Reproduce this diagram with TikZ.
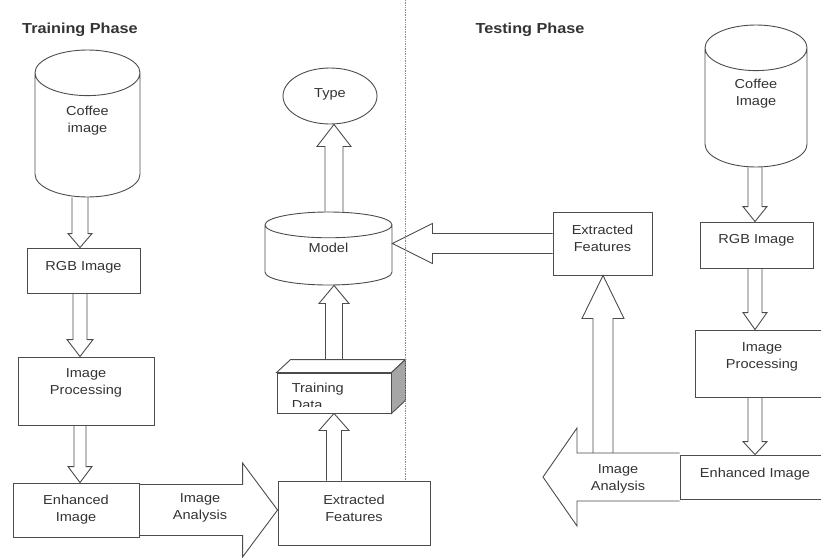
\documentclass[tikz,border=0pt]{standalone}
\usepackage{fontspec}
\setmainfont[FakeStretch=1.12]{Liberation Sans}
\usetikzlibrary{shapes.geometric,calc,backgrounds}

% hollow block arrows: from, to, shaft half width, head half width, head length
\newcommand{\blockarrowv}[5]{%
  \coordinate (bs) at (#1);
  \coordinate (bt) at (bs |- #2);
  \draw[blockarrow] ($(bs)+(-#3,0)$) -- ($(bt)-(#3,#5)$) -- ($(bt)-(#4,#5)$) -- (bt)
    -- ($(bt)-(-#4,#5)$) -- ($(bt)-(-#3,#5)$) -- ($(bs)+(#3,0)$);}
\newcommand{\blockarrowh}[5]{%
  \coordinate (bs) at (#1);
  \coordinate (bt) at (#2 |- bs);
  \draw[blockarrow] ($(bs)+(0,-#3)$) -- ($(bt)-(#5,#3)$) -- ($(bt)-(#5,#4)$) -- (bt)
    -- ($(bt)-(#5,-#4)$) -- ($(bt)-(#5,-#3)$) -- ($(bs)+(0,#3)$);}

\begin{document}
\begin{tikzpicture}[x=1pt, y=-1pt,
    every node/.style={font=\fontsize{13}{17}\selectfont, text=black!80, align=center},
    line/.style={draw=black!70, line width=0.9pt},
    stepbox/.style={line, rectangle, inner sep=0pt},
    dbase/.style={line, cylinder, shape border rotate=90, inner sep=0pt, anchor=shape center},
    blockarrow/.style={line, fill=white, line join=miter},
    heading/.style={font=\fontsize{14.5}{17}\selectfont\bfseries},
    divider/.style={draw=black!45, densely dotted, line width=0.7pt}]
    \useasboundingbox (0,0) rectangle (821,557);
    \clip (0,0) rectangle (821,557);

    % Training phase
    \node[heading] (trainhead) at (80,30) {Training Phase};
    \node[dbase, aspect=1.07, minimum width=105, minimum height=147, text depth=31] (imgA) at (87.5,123.5) {Coffee\\image};
    \node[stepbox, minimum width=113, minimum height=45, text depth=9] (rgbA) at (83.5,270.5) {RGB Image};
    \node[stepbox, minimum width=136, minimum height=68, text depth=19] (procA) at (86,391) {Image\\Processing};
    \node[stepbox, minimum width=126, minimum height=54] (enhA) at (76,510) {Enhanced\\Image};
    \node[stepbox, minimum width=152, minimum height=64, text depth=10] (featA) at (354,513) {Extracted\\Features};

    % Training data, model and type
    \node[stepbox, fill=white, minimum width=114, minimum height=40] (train) at (334,393) {};
    \draw[line, fill=white] (train.north west) -- ++(14,-13) -- ($(train.north east)+(14,-13)$) -- (train.north east) -- cycle;
    \draw[line, fill=black!35] (train.north east) -- ++(14,-13) -- ($(train.south east)+(14,-13)$) -- (train.south east) -- cycle;
    \begin{scope}
        \clip (train.north west) rectangle ($(train.south east)+(0,-7)$);
        \node[anchor=north west, align=left, inner sep=0pt] (traintxt) at ($(train.north west)+(15,10)$) {Training\\Data};
    \end{scope}
    \node[dbase, aspect=0.65, minimum width=127, minimum height=73, text depth=14] (model) at (328.5,248.5) {Model};
    \node[line, ellipse, minimum width=94, minimum height=56, inner sep=0pt, text depth=6] (type) at (330,96) {Type};

    % Testing phase
    \node[heading] (testhead) at (530,30) {Testing Phase};
    \node[dbase, aspect=1.07, minimum width=102, minimum height=142, text depth=31] (imgB) at (756,96) {Coffee\\Image};
    \node[stepbox, minimum width=113, minimum height=46, text depth=13] (rgbB) at (756.5,245) {RGB Image};
    \node[stepbox, minimum width=134, minimum height=67, text depth=16] (procB) at (762,363.5) {Image\\Processing};
    \node[stepbox, minimum width=150, minimum height=44, text depth=9] (enhB) at (755,477) {Enhanced Image};
    \node[stepbox, minimum width=99, minimum height=63, text depth=10] (featB) at (602.5,243.5) {Extracted\\Features};

    \coordinate (colA) at (80,0);
    \coordinate (colM) at (334,0);
    \coordinate (colB) at (755,0);
    \coordinate (traintop) at ($(train.north -| colM)+(0,-13)$);
    \coordinate (anaBtip) at (543,477);
    \coordinate (anaBtop) at (603,455);

    % Block arrows
    \begin{scope}[on background layer]
        \blockarrowv{imgA.south -| colA}{rgbA.north}{8}{12}{14}
        \blockarrowv{rgbA.south -| colA}{procA.north}{7}{13}{17}
        \blockarrowv{procA.south -| colA}{enhA.north}{6}{12}{16}
        \blockarrowh{enhA.east}{featA.west}{25.5}{47}{35}
        \blockarrowv{featA.north -| colM}{train.south}{7.5}{15}{-17}
        \blockarrowv{traintop}{model.south}{8.5}{15}{-18}
        \blockarrowv{model.north -| colM}{type.south}{9}{17}{-22}
        \blockarrowh{featB.west}{model.east}{10}{20}{-40}
        \blockarrowv{anaBtop}{featB.south}{10}{21}{-43}
        \blockarrowh{enhB.west}{anaBtip}{24}{49}{-34}
        \blockarrowv{imgB.south -| colB}{rgbB.north}{7}{12}{15}
        \blockarrowv{rgbB.south -| colB}{procB.north}{7}{12}{17}
        \blockarrowv{procB.south -| colB}{enhB.north}{7}{12}{13}
    \end{scope}
    \node (anaAtxt) at (200,508) {Image\\Analysis};
    \node (anaBtxt) at (618,479) {Image\\Analysis};

    % Phase divider
    \draw[divider] (405,0) -- (405,480);
\end{tikzpicture}
\end{document}
